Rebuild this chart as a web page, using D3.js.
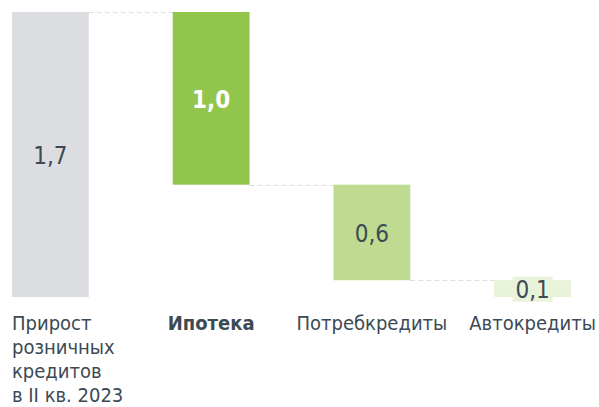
<!DOCTYPE html>
<html>
<head>
<meta charset="utf-8">
<script src="https://cdn.jsdelivr.net/npm/d3@7"></script>
<style>
  body { margin: 0; background: #fff; }
  text { font-family: "DejaVu Sans Condensed", "DejaVu Sans", sans-serif; font-stretch: condensed; }
</style>
</head>
<body>
<script>
const width = 599;
const height = 407;

// данные водопада
const categories = ["total", "mortgage", "consumer", "auto"];
const catLabels = [
    ["Прирост", "розничных", "кредитов", "в II кв. 2023"],
    ["Ипотека"],
    ["Потребкредиты"],
    ["Автокредиты"]
];
const values = [1.7, 1.03, 0.57, 0.10];
const valueLabels = ["1,7", "1,0", "0,6", "0,1"];

const color = {
    bars: ["#dcdde0", "#92c54c", "#bedb91", "#e8f3da"],
    text: ["#3c4a53", "#ffffff", "#3c4a53", "#3c4a53"],
    line: "#dddddd"
};

// start/end of each piece: first is total, rest go down from the top
let bars = [];
let level = values[0];
values.forEach(function (v, i) {
    if (i === 0) {
        bars.push({ key: categories[i], y0: 0, y1: v });
    } else {
        bars.push({ key: categories[i], y0: level - v, y1: level });
        level = level - v;
    }
});

let svg = d3.select("body").append("svg")
    .attr("width", width)
    .attr("height", height);

let x = d3.scaleBand()
    .domain(categories)
    .range([12, 571])
    .paddingInner(0.522)
    .paddingOuter(0);

let y = d3.scaleLinear()
    .domain([0, 1.7])
    .range([297, 12]);

// пунктирные соединители
svg.selectAll("line.conn")
    .data(bars.slice(0, -1))
    .enter()
    .append("line")
    .attr("class", "conn")
    .attr("x1", (d, i) => x(categories[i]) + x.bandwidth())
    .attr("x2", (d, i) => x(categories[i + 1]))
    .attr("y1", d => Math.round(y(d.y0 === 0 ? d.y1 : d.y0)) + 0.5)
    .attr("y2", d => Math.round(y(d.y0 === 0 ? d.y1 : d.y0)) + 0.5)
    .attr("stroke", color.line)
    .attr("stroke-width", 1)
    .attr("stroke-dasharray", "5,3");

svg.selectAll("rect.bar")
    .data(bars)
    .enter()
    .append("rect")
    .attr("class", "bar")
    .attr("x", d => x(d.key))
    .attr("width", x.bandwidth())
    .attr("y", d => y(d.y1))
    .attr("height", d => y(d.y0) - y(d.y1))
    .attr("fill", (d, i) => color.bars[i]);

// подложка для маленькой подписи 0,1
let last = bars[bars.length - 1];
svg.append("rect")
    .attr("x", x(last.key) + x.bandwidth() / 2 - 20)
    .attr("y", (y(last.y0) + y(last.y1)) / 2 - 12)
    .attr("width", 40)
    .attr("height", 25)
    .attr("fill", color.bars[3]);

svg.selectAll("text.val")
    .data(bars)
    .enter()
    .append("text")
    .attr("class", "val")
    .attr("x", d => x(d.key) + x.bandwidth() / 2)
    .attr("y", d => (y(d.y0) + y(d.y1)) / 2)
    .attr("dy", "0.4em")
    .attr("text-anchor", "middle")
    .attr("font-size", 24)
    .attr("font-weight", (d, i) => i === 1 ? "bold" : "normal")
    .attr("fill", (d, i) => color.text[i])
    .text((d, i) => valueLabels[i]);

let labels = svg.selectAll("text.cat")
    .data(categories)
    .enter()
    .append("text")
    .attr("class", "cat")
    .attr("x", (d, i) => i === 0 ? x(d) : x(d) + x.bandwidth() / 2)
    .attr("y", 330)
    .attr("text-anchor", (d, i) => i === 0 ? "start" : "middle")
    .attr("font-size", 20)
    .attr("font-weight", (d, i) => i === 1 ? "bold" : "normal")
    .attr("fill", "#3c4a53");

labels.each(function (d, i) {
    d3.select(this).selectAll("tspan")
        .data(catLabels[i])
        .enter()
        .append("tspan")
        .attr("x", i === 0 ? x(d) : x(d) + x.bandwidth() / 2)
        .attr("dy", (t, j) => j === 0 ? 0 : 24)
        .text(t => t);
});
</script>
</body>
</html>
